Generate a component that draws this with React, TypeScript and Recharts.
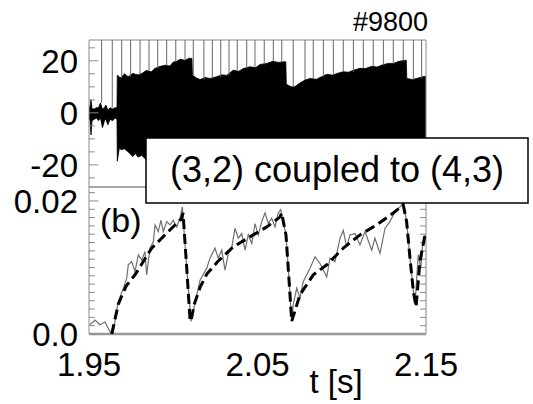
import React from 'react';
import { ComposedChart, LineChart, Line, Area, XAxis, YAxis, ReferenceLine, ReferenceArea } from 'recharts';

// labels
const shotLabel = '#9800';
const modeLabel = '(3,2) coupled to (4,3)';
const panelLabel = '(b)';
const timeLabel = 't [s]';

// axes
const timeDomain = [1.95, 2.15];
const timeTicks = [1.95, 2.05, 2.15];
const signalDomain = [-28.5, 28];
const signalTicks = [-20, 0, 20];
const signalMinorTicks = [-25, -15, -10, -5, 5, 10, 15, 25];
const ampDomain = [0, 0.0221];
const ampTicks = [0, 0.02];
const ampMinorTicks = [0.00125, 0.0025, 0.00375, 0.005, 0.00625, 0.0075, 0.00875, 0.01, 0.01125, 0.0125, 0.01375, 0.015, 0.01625, 0.0175, 0.01875, 0.02125];

// top panel: magnetic probe signal envelope
const sigTime = [1.95, 1.9506, 1.9512, 1.9518, 1.953, 1.9545, 1.9556, 1.9568, 1.958, 1.9592, 1.96, 1.9612, 1.9625, 1.964, 1.9655, 1.9666,
  1.9668, 1.968, 1.969, 1.971, 1.9733, 1.976, 1.9775, 1.979, 1.9813, 1.984, 1.987, 1.9892, 1.992, 1.9951, 1.998, 2.0, 2.002, 2.004, 2.007, 2.0095, 2.0111,
  2.0114, 2.0135, 2.0159, 2.019, 2.0218, 2.0258, 2.029, 2.0317, 2.0356, 2.039, 2.0415, 2.0455, 2.049, 2.0515, 2.0555, 2.059, 2.0625, 2.0654, 2.0668,
  2.0671, 2.07, 2.072, 2.0752, 2.0782, 2.0812, 2.085, 2.088, 2.0911, 2.0945, 2.098, 2.1009, 2.104, 2.107, 2.1108, 2.114, 2.1178, 2.121, 2.124, 2.1276, 2.1306, 2.134, 2.1375, 2.1383,
  2.1386, 2.142, 2.145, 2.148, 2.15];
const sigHigh = [2, 2.5, 5, 1.5, 1.5, 2, 2, 3.8, 1.5, 2, 3, 1, 2, 1.5, 2, 2,
  14.5, 13.8, 13.5, 15, 13.9, 15.2, 14.8, 14.6, 15.1, 16.3, 15.8, 17.1, 17.8, 18.3, 18, 19.5, 19.8, 20.6, 20.2, 21, 20.9,
  14.5, 13.5, 12.8, 13.6, 13.2, 13.9, 14.6, 14.4, 16.4, 16, 17, 17.7, 17.4, 18.6, 19, 19.8, 19.4, 19.6, 19.6,
  11, 10, 10, 11.5, 12.6, 13.2, 12.9, 13.9, 14.8, 14.5, 15.3, 15.8, 15.6, 16.4, 17.1, 17, 17.9, 17.6, 18.4, 19, 19, 19.8, 20.2, 20.2,
  13.2, 12.8, 13.3, 13.9, 14];
const sigLow = [-2, -3, -8.5, -3, -2.5, -2, -3, -2, -5.7, -3, -2.5, -4.6, -2.5, -3, -2, -2.5,
  -18.6, -13.5, -14.2, -13.8, -15, -16.8, -15.6, -17, -16.4, -18, -19, -18.5, -19.5, -19.8, -20, -20.5, -21, -21.5, -21.5, -22, -22,
  -16, -15, -14.5, -15, -15, -15.5, -16, -16, -17.5, -17.5, -18, -19, -19, -20, -20.5, -21, -21, -21, -21,
  -13, -12, -12, -13, -14, -14.5, -14.5, -15.5, -16, -16, -17, -17, -17, -18, -18.5, -18.5, -19.5, -19.5, -20, -20.5, -20.5, -21, -21.5, -21.5,
  -15, -14.5, -15, -15.5, -15.5];

// sawtooth crash spikes reaching the top of the panel
const spikeTime = [1.9575, 1.9638, 1.9694, 1.9747, 1.9803, 1.9856, 1.9908, 1.9961, 2.0015, 2.007, 2.0119, 2.0182, 2.0232, 2.0282, 2.0331, 2.038,
  2.0436, 2.0485, 2.054, 2.0594, 2.0644, 2.0712, 2.0782, 2.0831, 2.0891, 2.095, 2.1009, 2.1069, 2.1128, 2.1187, 2.1247, 2.1306, 2.1365, 2.1425, 2.1474];

// bottom panel: measured amplitude (grey) and model (dashed)
const measTime = [1.9506, 1.9536, 1.9565, 1.9595, 1.9625, 1.9644, 1.9674, 1.9704, 1.9724, 1.9733, 1.9753, 1.9773, 1.9793, 1.9813, 1.9832, 1.9842,
  1.9862, 1.9882, 1.9892, 1.9911, 1.9927, 1.9941, 1.9961, 1.9981, 2.0, 2.002, 2.004, 2.0054, 2.008, 2.0105,
  2.0159, 2.0199, 2.0218, 2.0248, 2.0267, 2.0288, 2.0307, 2.0327, 2.0347, 2.0366, 2.0386, 2.0406, 2.0426, 2.0445, 2.0466, 2.0485, 2.0505,
  2.0525, 2.0545, 2.0564, 2.0584, 2.0604, 2.0623, 2.0638, 2.0669, 2.0689, 2.0703,
  2.0712, 2.0733, 2.0752, 2.0772, 2.0792, 2.0812, 2.0841, 2.0871, 2.0911, 2.093, 2.096, 2.099, 2.1009, 2.1029, 2.1049, 2.1079, 2.1108, 2.1138,
  2.1178, 2.1197, 2.1227, 2.1257, 2.1286, 2.1316, 2.1346, 2.1365, 2.1385, 2.1405, 2.1425, 2.1435, 2.1445, 2.1454, 2.1469, 2.148, 2.1494];
const measValue = [0.0014, 0.0021, 0.0014, 0.0018, 0.0003, 0.0003, 0.0049, 0.0069, 0.0084, 0.0104, 0.0109, 0.0094, 0.0119, 0.0111, 0.0124, 0.0089,
  0.0129, 0.0139, 0.0164, 0.0154, 0.0171, 0.0154, 0.0169, 0.0164, 0.0171, 0.0161, 0.0174, 0.0191, 0.0099, 0.0019,
  0.0081, 0.0099, 0.0114, 0.0129, 0.0114, 0.0126, 0.0096, 0.0121, 0.0129, 0.0159, 0.0144, 0.0151, 0.0126, 0.0149, 0.0136, 0.0166, 0.0149,
  0.0169, 0.0182, 0.0166, 0.0174, 0.0161, 0.0182, 0.0187, 0.0149, 0.0074, 0.0019,
  0.0044, 0.0069, 0.0054, 0.0079, 0.0089, 0.0099, 0.0116, 0.0106, 0.0086, 0.0114, 0.0109, 0.0144, 0.0156, 0.0131, 0.0149, 0.0151, 0.0134, 0.0154,
  0.0126, 0.0144, 0.0121, 0.0159, 0.0169, 0.0184, 0.0191, 0.0197, 0.0169, 0.0114, 0.0064, 0.0045, 0.0084, 0.0119, 0.0099, 0.0134, 0.0149];

const fitTime = [1.9635, 1.9674, 1.972, 1.9773, 1.9872, 1.9971, 2.005, 2.0058, 2.008, 2.0099, 2.0105, 2.0125, 2.0159, 2.0199, 2.0264, 2.0356, 2.0455,
  2.0555, 2.0634, 2.0643, 2.0669, 2.0689, 2.0703, 2.0752, 2.0831, 2.0911, 2.1009, 2.1108, 2.1207, 2.1306, 2.1365, 2.1385, 2.1405, 2.1425, 2.1441, 2.1464, 2.1494];
const fitValue = [0, 0.0045, 0.0072, 0.0089, 0.0129, 0.0154, 0.0174, 0.0182, 0.0099, 0.0024, 0.0019, 0.0045, 0.007, 0.009, 0.0109, 0.0131, 0.0146,
  0.0161, 0.0176, 0.0182, 0.0149, 0.0074, 0.0019, 0.0059, 0.0089, 0.0104, 0.0129, 0.0149, 0.0164, 0.0182, 0.0194, 0.0169, 0.0114, 0.0064, 0.0041, 0.0109, 0.0149];

const signalData = sigTime.map((t, i) => ({ t, band: [sigLow[i], sigHigh[i]] }));
const measData = measTime.map((t, i) => ({ t, v: measValue[i] }));
const fitData = fitTime.map((t, i) => ({ t, v: fitValue[i] }));

// spike starts at the envelope top of the last sample before it
const spikeBase = spikeTime.map((t) => {
  let h = sigHigh[0];
  sigTime.forEach((s, i) => { if (s <= t) h = sigHigh[i]; });
  return h;
});

const font = '"Liberation Sans", Arial, Helvetica, sans-serif';
const tickStyle = { fontSize: 33, fill: '#000', fontFamily: font };
const frame = '#8a8a8a';
const minorLen = 0.0035;
const majorLen = 0.0055;

export default function App() {
  return (
    <div style={{ position: 'absolute', left: 0, top: 0, width: 533, height: 404, background: '#fff', fontFamily: font }}>
      <div style={{ position: 'absolute', left: 0, top: 0 }}>
        <ComposedChart width={533} height={190} data={signalData} margin={{ top: 40, right: 107, bottom: 3, left: 9 }}>
          <XAxis dataKey="t" type="number" domain={timeDomain} hide allowDataOverflow />
          <YAxis type="number" domain={signalDomain} ticks={signalTicks} width={80} tickLine={false} axisLine={false}
            tickSize={0} tickMargin={11} tick={tickStyle} allowDataOverflow />
          {spikeTime.map((t, i) => (
            <ReferenceLine key={'s' + i} segment={[{ x: t, y: spikeBase[i] }, { x: t, y: signalDomain[1] }]} stroke="#666" strokeWidth={1} />
          ))}
          <Area dataKey="band" type="linear" stroke="#000" strokeWidth={0.8} fill="#000" fillOpacity={1} isAnimationActive={false} />
          <ReferenceArea x1={timeDomain[0]} x2={timeDomain[1]} y1={signalDomain[0]} y2={signalDomain[1]} fill="none" stroke={frame} strokeWidth={1} />
          {signalMinorTicks.map((v) => (
            <ReferenceLine key={'m' + v} segment={[{ x: timeDomain[0], y: v }, { x: timeDomain[0] + minorLen, y: v }]} stroke={frame} />
          ))}
          {signalTicks.map((v) => (
            <ReferenceLine key={'M' + v} segment={[{ x: timeDomain[0], y: v }, { x: timeDomain[0] + majorLen, y: v }]} stroke={frame} />
          ))}
        </ComposedChart>
      </div>
      <div style={{ position: 'absolute', left: 0, top: 150 }}>
        <LineChart width={533} height={254} margin={{ top: 37, right: 107, bottom: 0, left: 9 }}>
          <XAxis dataKey="t" type="number" domain={timeDomain} ticks={timeTicks} height={70} tickLine={false} axisLine={false}
            tickSize={0} tickMargin={19} tick={tickStyle} tickFormatter={(v: number) => v.toFixed(2)} allowDataOverflow />
          <YAxis type="number" domain={ampDomain} ticks={ampTicks} width={80} tickLine={false} axisLine={false}
            tickSize={0} tickMargin={11} tick={tickStyle} tickFormatter={(v: number) => (v === 0 ? '0.0' : '0.02')} allowDataOverflow />
          <ReferenceArea x1={timeDomain[0]} x2={timeDomain[1]} y1={ampDomain[0]} y2={ampDomain[1]} fill="none" stroke={frame} strokeWidth={1} />
          <ReferenceLine y={0} stroke="#999" strokeWidth={2.5} />
          {ampMinorTicks.map((v) => (
            <ReferenceLine key={'l' + v} segment={[{ x: timeDomain[0], y: v }, { x: timeDomain[0] + minorLen, y: v }]} stroke={frame} />
          ))}
          {ampMinorTicks.map((v) => (
            <ReferenceLine key={'r' + v} segment={[{ x: timeDomain[1] - minorLen, y: v }, { x: timeDomain[1], y: v }]} stroke={frame} />
          ))}
          {ampTicks.map((v) => (
            <ReferenceLine key={'L' + v} segment={[{ x: timeDomain[0], y: v }, { x: timeDomain[0] + majorLen, y: v }]} stroke={frame} />
          ))}
          <Line data={measData} dataKey="v" type="linear" stroke="#707070" strokeWidth={1.2} dot={false} isAnimationActive={false} />
          <Line data={fitData} dataKey="v" type="linear" stroke="#000" strokeWidth={3} strokeDasharray="10 5" dot={false} isAnimationActive={false} />
        </LineChart>
      </div>
      <svg width={533} height={404} style={{ position: 'absolute', left: 0, top: 0, pointerEvents: 'none' }}>
        <text x={428} y={31} textAnchor="end" fontSize={27} fontFamily={font} fill="#000">{shotLabel}</text>
        <rect x={146} y={138} width={382} height={65} fill="#fff" stroke="#000" strokeWidth={1.5} />
        <text x={337} y={182} textAnchor="middle" fontSize={36} fontFamily={font} fill="#000">{modeLabel}</text>
        <text x={100} y={232} fontSize={34} fontFamily={font} fill="#000">{panelLabel}</text>
        <text x={336} y={393} textAnchor="middle" fontSize={33} fontFamily={font} fill="#000">{timeLabel}</text>
      </svg>
    </div>
  );
}
